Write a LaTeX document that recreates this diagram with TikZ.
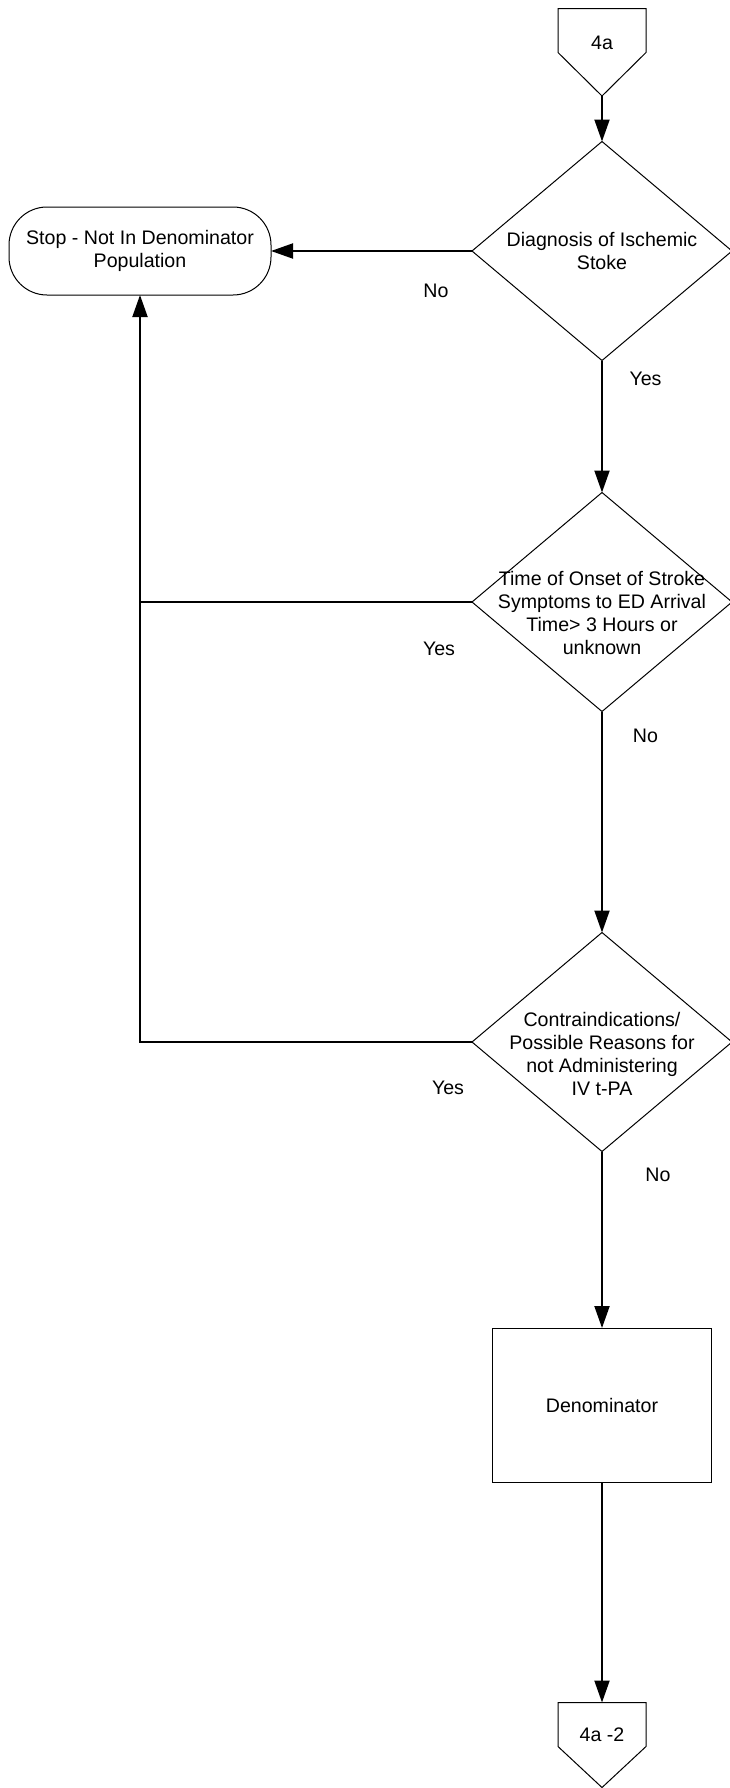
\documentclass[tikz,border=0pt]{standalone}
\usepackage{fontspec}
\setmainfont{Liberation Sans}
\usetikzlibrary{shapes.geometric,arrows.meta}
\begin{document}
\begin{tikzpicture}[x=1pt,y=-1pt,
  every node/.style={font=\fontsize{19.6}{23}\selectfont, inner sep=0pt, outer sep=0pt},
  shapeline/.style={draw=black, line width=1pt},
  decision/.style={shapeline, shape=diamond, minimum width=260pt, minimum height=219pt},
  txt/.style={align=center},
  lbl/.style={anchor=center},
  flow/.style={draw=black, line width=2pt, -{Triangle[length=22pt,width=15pt]}},
  plain/.style={draw=black, line width=2pt}]
  \useasboundingbox (0,0) rectangle (730,1788);

  % off-page connector at the top
  \draw[shapeline, fill=white] (558,8.5) -- (646,8.5) -- (646,52.5) -- (602,96) -- (558,52.5) -- cycle;
  \coordinate (c1tip) at (602,96);
  \node[txt] (c1) at (602,43) {4a};

  % decisions
  \node[decision] (d1) at (602,251) {};
  \node[txt] (d1t) at (602,251) {Diagnosis of Ischemic\\Stoke};
  \node[decision] (d2) at (602,602) {};
  \node[txt] (d2t) at (602,612.5) {Time of Onset of Stroke\\Symptoms to ED Arrival\\Time> 3 Hours or\\unknown};
  \node[decision] (d3) at (602,1042) {};
  \node[txt] (d3t) at (602,1054) {Contraindications/\\Possible Reasons for\\not Administering\\IV t-PA};

  % terminal
  \node[shapeline, rectangle, rounded corners=38pt, minimum width=262pt, minimum height=88pt, txt] (stop) at (140,251) {Stop - Not In Denominator\\Population};

  % process box
  \node[shapeline, rectangle, minimum width=219.5pt, minimum height=154pt, txt] (den) at (602,1405) {Denominator};

  % off-page connector at the bottom
  \draw[shapeline, fill=white] (558,1702.5) -- (646,1702.5) -- (646,1746.5) -- (602,1787.5) -- (558,1746.5) -- cycle;
  \coordinate (c2top) at (602,1702.5);
  \node[txt] (c2) at (602,1735) {4a -2};

  % connectors
  \draw[flow] (c1tip) -- (d1.north);
  \draw[flow] (d1.west) -- (stop.east);
  \draw[flow] (d1.south) -- (d2.north);
  \draw[plain] (d2.west) -- (d2.west -| stop.south);
  \draw[flow] (d3.west) -| (stop.south);
  \draw[flow] (d2.south) -- (d3.north);
  \draw[flow] (d3.south) -- (den.north);
  \draw[flow] (den.south) -- (c2top);

  % branch labels
  \node[lbl] (l1) at (436,291) {No};
  \node[lbl] (l2) at (645.5,379) {Yes};
  \node[lbl] (l3) at (439,648.5) {Yes};
  \node[lbl] (l4) at (645.5,736) {No};
  \node[lbl] (l5) at (448,1088) {Yes};
  \node[lbl] (l6) at (658,1175) {No};
\end{tikzpicture}
\end{document}
